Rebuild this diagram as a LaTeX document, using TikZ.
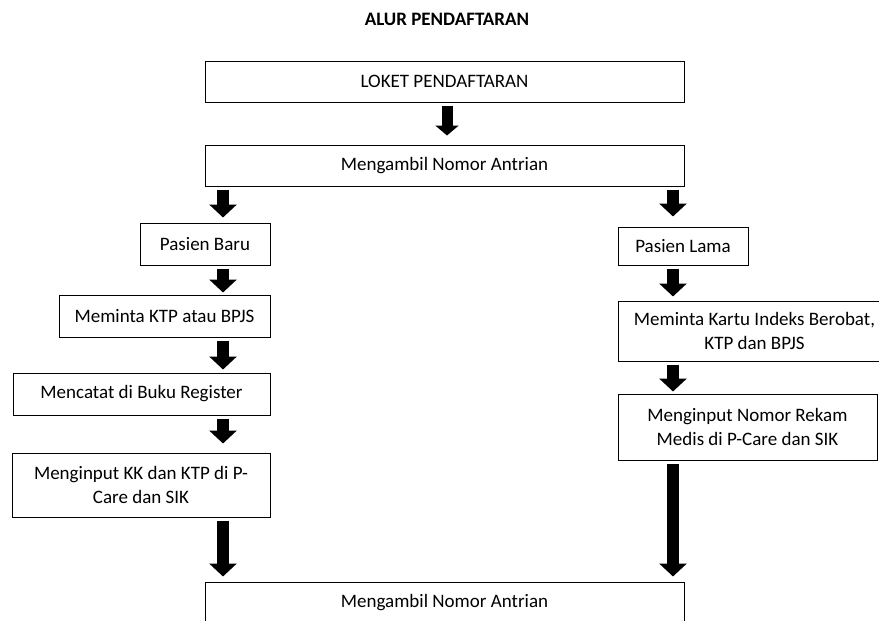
\documentclass[tikz,border=0pt]{standalone}
\usepackage{fontspec}
\setmainfont{Carlito}
\usetikzlibrary{arrows.meta,positioning}

\begin{document}
\begin{tikzpicture}[x=1pt,y=-1pt,
	box/.style={rectangle,draw,line width=1pt,inner sep=0pt,align=center,font=\fontsize{19}{24}\selectfont},
	blockarrow/.style={-{Triangle[length=13pt,width=27pt]},line width=12pt,shorten <=3pt,shorten >=5pt}]
	\useasboundingbox (0,0) rectangle (879,621);
	\clip (0,0) rectangle (879,621);

	\node[font=\fontsize{19}{24}\selectfont\bfseries] (Title) at (447,19) {ALUR PENDAFTARAN};

	\begin{scope}[every node/.style={box}]
		\node[minimum width=479pt,minimum height=41pt] (Loket) at (444.5,81.5) {LOKET PENDAFTARAN};
		\node[minimum width=479pt,minimum height=41pt] (Ambil) at (444.5,165.5) {Mengambil Nomor Antrian};
		% pasien baru
		\node[minimum width=130pt,minimum height=42pt] (Baru) at (205,244) {Pasien Baru};
		\node[minimum width=211pt,minimum height=42pt] (KTP) at (164.5,316) {Meminta KTP atau BPJS};
		\node[minimum width=257pt,minimum height=42pt] (Catat) at (141.5,394) {Mencatat di Buku Register};
		\node[minimum width=258pt,minimum height=64pt] (InputKK) at (141,485) {Menginput KK dan KTP di P-\\Care dan SIK};
		% pasien lama
		\node[minimum width=130pt,minimum height=38pt] (Lama) at (683,246) {Pasien Lama};
		\node[minimum width=273pt,minimum height=60pt] (Kartu) at (754.5,331) {Meminta Kartu Indeks Berobat,\\KTP dan BPJS};
		\node[minimum width=259pt,minimum height=66pt] (InputRM) at (747.5,427) {Menginput Nomor Rekam\\Medis di P-Care dan SIK};
		\node[minimum width=479pt,minimum height=41pt] (AmbilAkhir) at (444.5,602.5) {Mengambil Nomor Antrian};
	\end{scope}

	\coordinate (colM) at (447,0);
	\coordinate (colL) at (223,0);
	\coordinate (colR) at (673,0);

	\begin{scope}
	\draw[blockarrow,line width=11pt,-{Triangle[length=10pt,width=23pt]},shorten >=9pt] (Loket.south -| colM) -- (Ambil.north -| colM);
	\draw[blockarrow] (Ambil.south -| colL) -- (Baru.north -| colL);
	\draw[blockarrow,shorten >=10pt] (Ambil.south -| colR) -- (Lama.north -| colR);
	\draw[blockarrow,shorten >=2pt] (Baru.south -| colL) -- (KTP.north -| colL);
	\draw[blockarrow,shorten >=3pt] (KTP.south -| colL) -- (Catat.north -| colL);
	\draw[blockarrow,shorten >=9pt] (Catat.south -| colL) -- (InputKK.north -| colL);
	\draw[blockarrow] (InputKK.south -| colL) -- (AmbilAkhir.north -| colL);
	\draw[blockarrow,shorten >=4pt] (Lama.south -| colR) -- (Kartu.north -| colR);
	\draw[blockarrow,shorten >=2pt] (Kartu.south -| colR) -- (InputRM.north -| colR);
	\draw[blockarrow] (InputRM.south -| colR) -- (AmbilAkhir.north -| colR);
	\end{scope}
\end{tikzpicture}
\end{document}
